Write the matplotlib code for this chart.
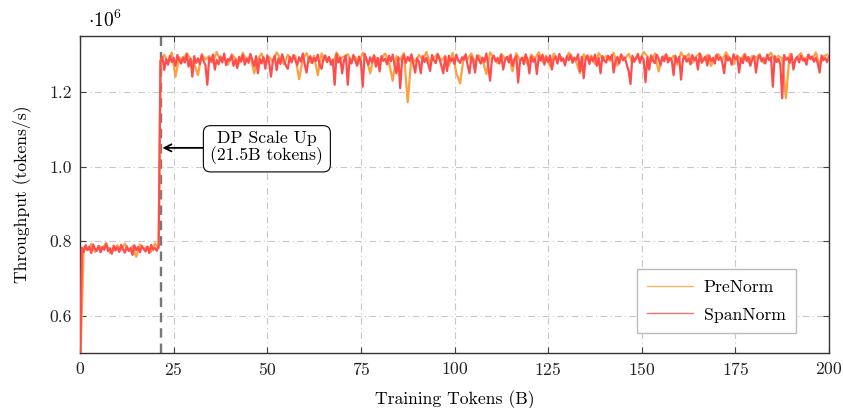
import numpy as np
import matplotlib
matplotlib.use("Agg")
import matplotlib.pyplot as plt
from matplotlib.ticker import FuncFormatter

plt.rcParams['font.family'] = ['cmr10', 'DejaVu Serif']
plt.rcParams['mathtext.fontset'] = 'cm'
plt.rcParams['axes.formatter.use_mathtext'] = True

# throughput in 1e3 tokens/s
# SpanNorm: before DP scale up, every 0.5B from 0 to 21.0
span_before = [450, 782, 771, 789, 776, 785, 768, 791, 779, 774, 787, 770, 784, 777, 792,
               773, 781, 766, 788, 775, 783, 771, 790, 778, 769, 786, 774, 781, 763, 789,
               776, 784, 770, 787, 779, 772, 785, 768, 790, 777, 782, 774, 786]
# SpanNorm: after scale up, every 0.5B from 21.5 to 200
span_after = [
    1282, 1294, 1259, 1288, 1273, 1297, 1280, 1291, 1270, 1299, 1284, 1276, 1293, 1279, 1301, 1268, 1289, 1241, 1296, 1278,
    1290, 1275, 1298, 1283, 1271, 1219, 1292, 1281, 1300, 1260, 1286, 1274, 1295, 1279, 1303, 1272, 1288, 1284, 1297, 1270,
    1287, 1264, 1294, 1281, 1299, 1273, 1290, 1278, 1302, 1285, 1269, 1296, 1250, 1289, 1276, 1293, 1262, 1298, 1280, 1241,
    1284, 1297, 1258, 1290, 1275, 1301, 1283, 1270, 1262, 1294, 1279, 1299, 1286, 1272, 1293, 1281, 1303, 1274, 1252, 1288,
    1296, 1277, 1291, 1283, 1300, 1271, 1262, 1289, 1298, 1280, 1294, 1273, 1287, 1219, 1301, 1279, 1292, 1250, 1285, 1297,
    1219, 1290, 1276, 1299, 1284, 1270, 1295, 1281, 1214, 1302, 1287, 1273, 1293, 1279, 1298, 1268, 1291, 1255, 1296, 1283,
    1289, 1274, 1297, 1282, 1300, 1271, 1250, 1292, 1210, 1286, 1299, 1278, 1294, 1283, 1301, 1275, 1252, 1290, 1281, 1250,
    1296, 1280, 1291, 1273, 1256, 1299, 1285, 1277, 1302, 1288, 1270, 1250, 1294, 1256, 1297, 1282, 1290, 1275, 1300, 1284,
    1278, 1293, 1286, 1301, 1272, 1250, 1295, 1283, 1252, 1298, 1287, 1276, 1292, 1280, 1303, 1271, 1230, 1289, 1297, 1282,
    1291, 1276, 1299, 1260, 1285, 1294, 1279, 1300, 1270, 1288, 1296, 1225, 1283, 1292, 1274, 1301, 1286, 1250, 1295, 1281,
    1289, 1248, 1297, 1284, 1300, 1273, 1293, 1280, 1298, 1260, 1287, 1295, 1276, 1302, 1283, 1290, 1271, 1296, 1285, 1299,
    1278, 1292, 1286, 1301, 1255, 1294, 1237, 1289, 1298, 1275, 1293, 1282, 1300, 1270, 1291, 1250, 1296, 1284, 1279, 1297,
    1288, 1299, 1252, 1283, 1294, 1276, 1301, 1285, 1292, 1273, 1256, 1221, 1297, 1281, 1290, 1302, 1278, 1295, 1287, 1226,
    1293, 1260, 1298, 1284, 1277, 1300, 1289, 1272, 1295, 1282, 1301, 1279, 1291, 1286, 1245, 1297, 1280, 1294, 1233, 1288,
    1296, 1281, 1290, 1274, 1299, 1285, 1292, 1260, 1302, 1278, 1287, 1295, 1271, 1298, 1283, 1291, 1276, 1300, 1286, 1293,
    1279, 1250, 1297, 1284, 1292, 1273, 1301, 1288, 1295, 1252, 1290, 1277, 1299, 1283, 1294, 1270, 1287, 1296, 1252, 1289,
    1298, 1282, 1291, 1276, 1300, 1285, 1293, 1214, 1296, 1280, 1289, 1274, 1183, 1299, 1286, 1292, 1278, 1301, 1260, 1287,
    1294, 1279, 1297, 1284, 1290, 1273, 1300, 1288, 1295, 1281, 1292, 1276, 1252, 1298, 1285, 1291, 1280, 1296]

# PreNorm: every 1B from 0 to 21, then every 1B from 21.5 to 199.5
pre_before = [450, 784, 776, 792, 771, 787, 780, 795, 768, 775, 789, 777, 793, 774, 786,
              758, 791, 779, 785, 772, 794, 781]
pre_after = [
    1285, 1300, 1278, 1306, 1241, 1293, 1281, 1304, 1289, 1275,
    1245, 1302, 1287, 1296, 1279, 1307, 1284, 1292, 1273, 1301,
    1290, 1277, 1305, 1283, 1298, 1250, 1288, 1303, 1276, 1294,
    1281, 1306, 1291, 1274, 1300, 1286, 1296, 1234, 1289, 1304,
    1279, 1297, 1245, 1303, 1285, 1292, 1271, 1306, 1288, 1295,
    1301, 1282, 1294, 1276, 1305, 1289, 1250, 1298, 1284, 1291,
    1303, 1278, 1230, 1296, 1287, 1304, 1172, 1293, 1281, 1299,
    1286, 1307, 1275, 1292, 1301, 1284, 1297, 1270, 1305, 1250,
    1223, 1295, 1288, 1303, 1279, 1298, 1285, 1248, 1306, 1291,
    1277, 1302, 1289, 1296, 1255, 1304, 1283, 1293, 1274, 1300,
    1290, 1306, 1281, 1297, 1268, 1303, 1287, 1294, 1278, 1305,
    1292, 1280, 1250, 1301, 1286, 1298, 1275, 1304, 1289, 1296,
    1283, 1305, 1271, 1299, 1290, 1302, 1279, 1294, 1286, 1307,
    1296, 1281, 1303, 1255, 1291, 1300, 1284, 1297, 1273, 1306,
    1288, 1302, 1277, 1295, 1304, 1283, 1299, 1270, 1293, 1301,
    1285, 1306, 1290, 1274, 1298, 1287, 1303, 1280, 1296, 1292,
    1301, 1278, 1294, 1305, 1285, 1297, 1289, 1183, 1302, 1276,
    1293, 1304, 1282, 1299, 1287, 1306, 1271, 1295, 1300]

scale_up = 21.5
xticks = [0, 25, 50, 75, 100, 125, 150, 175, 200]
yticks = [0.6e6, 0.8e6, 1.0e6, 1.2e6]

x_span = np.concatenate([np.arange(len(span_before)) * 0.5,
                         np.linspace(scale_up, 200, len(span_after))])
y_span = np.array(span_before + span_after) * 1e3
x_pre = np.concatenate([np.arange(len(pre_before)) * 1.0,
                        np.linspace(scale_up, 199.5, len(pre_after))])
y_pre = np.array(pre_before + pre_after) * 1e3

fs = 12.7

fig = plt.figure(figsize=(8.43, 4.08), dpi=100)
ax = fig.add_axes([0.0949, 0.1348, 0.8885, 0.777])

ax.axvline(scale_up, color='#777777', lw=1.7, ls=(0, (4, 2.5)), zorder=1.5)
ax.plot(x_pre, y_pre, color='#ffa040', lw=1.6, label='PreNorm', zorder=2)
ax.plot(x_span, y_span, color='#ff4d4d', lw=1.6, label='SpanNorm', zorder=3)

ax.set_xlim(0, 200)
ax.set_ylim(0.5e6, 1.35e6)
ax.set_xticks(xticks)
ax.set_yticks(yticks)
ax.yaxis.set_major_formatter(FuncFormatter(lambda v, p: f'{v / 1e6:.1f}'))
ax.grid(True, color='#c8c8c8', lw=0.8, ls=(0, (6, 3, 1, 3)))
ax.tick_params(direction='in', top=True, right=True, length=4, width=0.8,
               color='#444444', labelsize=fs, labelcolor='#222222', pad=6)
for s in ax.spines.values():
    s.set_color('#333333')
    s.set_linewidth(1.0)

ax.set_xlabel('Training Tokens (B)', fontsize=fs, labelpad=9)
ax.set_ylabel('Throughput (tokens/s)', fontsize=fs, labelpad=13)
fig.text(0.104, 0.951, r'$\cdot 10^{6}$', fontsize=14, ha='left', va='center')

ax.annotate('DP Scale Up\n(21.5B tokens)', xy=(22.0, 1.05e6), xytext=(49.9, 1.05e6),
            ha='center', va='center', fontsize=fs, linespacing=1.0,
            bbox=dict(boxstyle='round,pad=0.4,rounding_size=0.4', fc='white', ec='black', lw=0.8),
            arrowprops=dict(arrowstyle='->', color='black', lw=1.3, shrinkA=0, shrinkB=0))

leg = ax.legend(loc='lower right', bbox_to_anchor=(0.968, 0.035), fontsize=fs,
                frameon=True, fancybox=False, edgecolor='#bbbbbb', framealpha=1,
                handlelength=2.6, borderpad=0.6, labelspacing=0.7, handletextpad=0.6)
for line in leg.get_lines():
    line.set_linewidth(1.0)
    line.set_alpha(0.8)

fig.savefig('out.png', dpi=100)
